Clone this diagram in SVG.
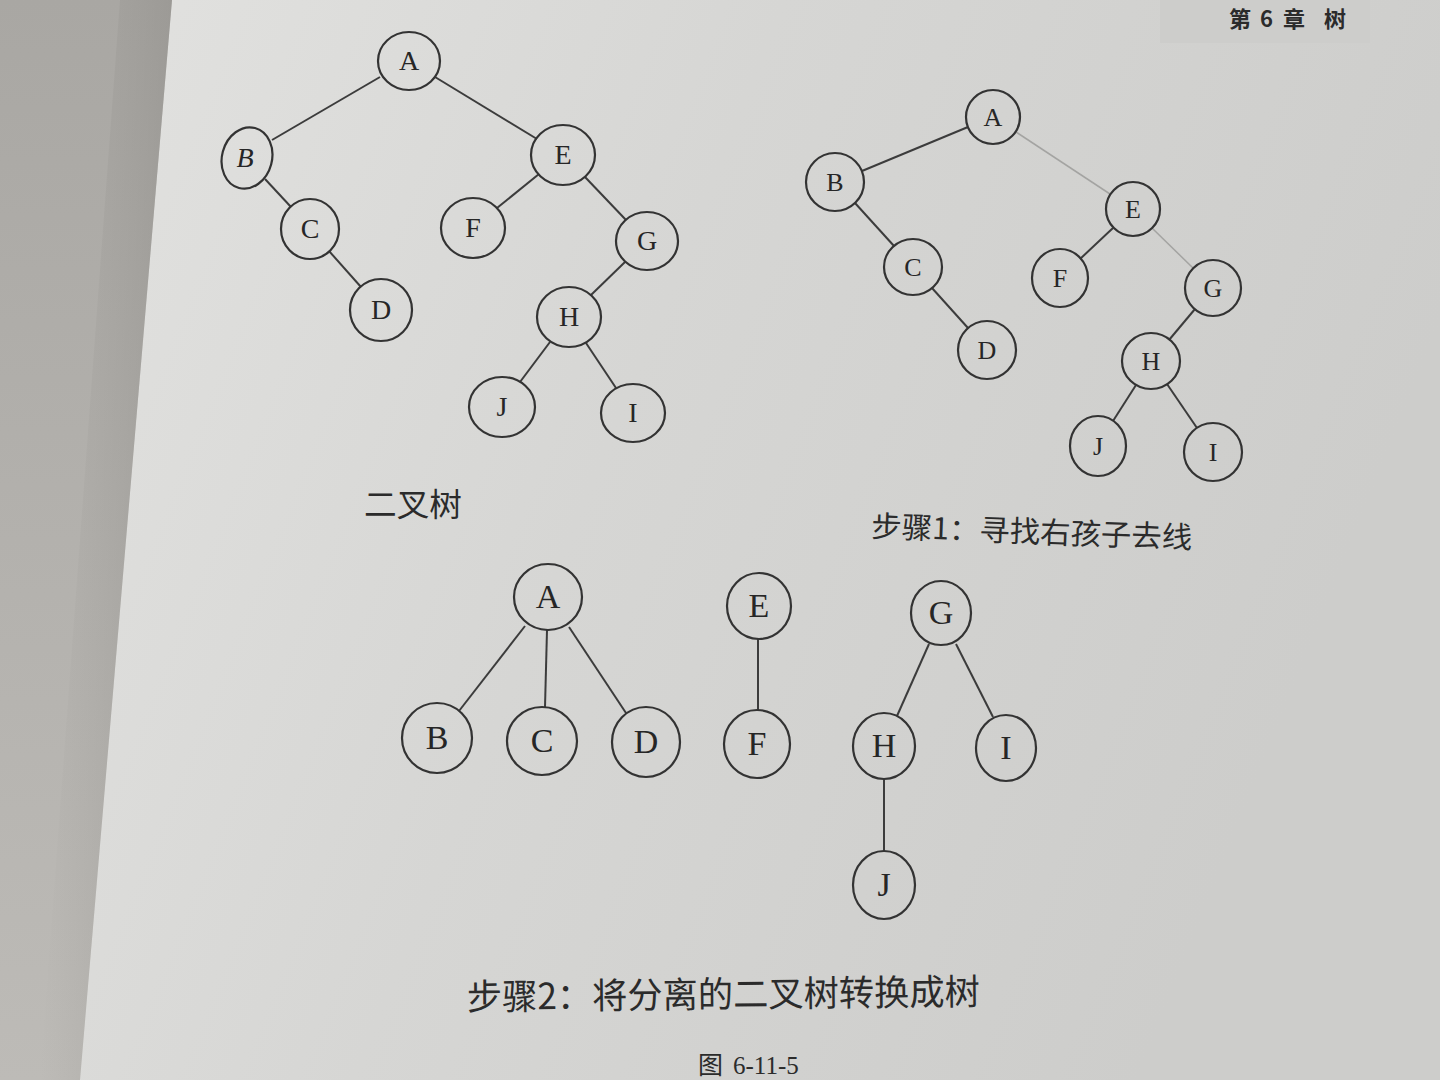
<svg xmlns="http://www.w3.org/2000/svg" width="1440" height="1080" viewBox="0 0 1440 1080">
<defs>
<linearGradient id="page" x1="0" y1="0" x2="1" y2="0.3">
<stop offset="0" stop-color="#e3e3e1"/>
<stop offset="0.5" stop-color="#d6d6d4"/>
<stop offset="1" stop-color="#cdcdcb"/>
</linearGradient>
<linearGradient id="left" x1="0" y1="0" x2="0" y2="1">
<stop offset="0" stop-color="#a9a7a3"/>
<stop offset="1" stop-color="#bdbbb7"/>
</linearGradient>
<linearGradient id="fold" x1="0" y1="0" x2="1" y2="0">
<stop offset="0" stop-color="#9e9c98" stop-opacity="0"/>
<stop offset="1" stop-color="#8f8d89" stop-opacity="0.5"/>
</linearGradient>
<style>
.n{fill:none;stroke:#333333;stroke-width:2.2}
.e{stroke:#3c3c3c;stroke-width:2;fill:none}
.f{stroke:#a4a4a2;stroke-width:1.5;fill:none}
.t1{font-family:"Liberation Serif","DejaVu Serif",serif;font-size:28px;fill:#262626;text-anchor:middle}
.t2{font-family:"Liberation Serif","DejaVu Serif",serif;font-size:26px;fill:#262626;text-anchor:middle}
.t3{font-family:"Liberation Serif","DejaVu Serif",serif;font-size:34px;fill:#262626;text-anchor:middle}
.cap{font-family:"Noto Sans CJK SC","Liberation Sans",sans-serif;fill:#2b2b2b}
</style>
</defs>
<rect x="0" y="0" width="1440" height="1080" fill="url(#page)"/>
<polygon points="0,0 172,0 80,1080 0,1080" fill="url(#left)"/>
<polygon points="120,0 172,0 80,1080 40,1080" fill="url(#fold)"/>
<rect x="1160" y="0" width="210" height="43" fill="#cdcdcb"/>

<g id="header">
<text class="cap" font-weight="bold" font-size="22" y="27"><tspan x="1229">第</tspan><tspan x="1260">6</tspan><tspan x="1283">章</tspan><tspan x="1324">树</tspan></text>
</g>

<g id="connectors">
<!-- tree 1 -->
<line class="e" x1="380" y1="77" x2="272" y2="140"/>
<line class="e" x1="435" y1="77" x2="537" y2="139"/>
<line class="e" x1="265" y1="179" x2="291" y2="207"/>
<line class="e" x1="329" y1="251" x2="361" y2="287"/>
<line class="e" x1="539" y1="174" x2="497" y2="208"/>
<line class="e" x1="585" y1="177" x2="626" y2="220"/>
<line class="e" x1="625" y1="262" x2="591" y2="295"/>
<line class="e" x1="550" y1="342" x2="520" y2="382"/>
<line class="e" x1="586" y1="343" x2="616" y2="388"/>
<!-- tree 2 -->
<line class="e" x1="968" y1="127" x2="862" y2="171"/>
<line class="f" x1="1016" y1="132" x2="1110" y2="194"/>
<line class="e" x1="855" y1="203" x2="894" y2="246"/>
<line class="e" x1="932" y1="288" x2="968" y2="328"/>
<line class="e" x1="1113" y1="228" x2="1080" y2="259"/>
<line class="f" x1="1152" y1="228" x2="1193" y2="268"/>
<line class="e" x1="1195" y1="309" x2="1169" y2="340"/>
<line class="e" x1="1136" y1="385" x2="1113" y2="421"/>
<line class="e" x1="1167" y1="384" x2="1197" y2="428"/>
<!-- tree 3 -->
<line class="e" x1="525" y1="626" x2="459" y2="711"/>
<line class="e" x1="547" y1="630" x2="545" y2="707"/>
<line class="e" x1="569" y1="627" x2="626" y2="713"/>
<line class="e" x1="758" y1="639" x2="758" y2="710"/>
<line class="e" x1="929" y1="644" x2="897" y2="716"/>
<line class="e" x1="956" y1="644" x2="993" y2="717"/>
<line class="e" x1="884" y1="779" x2="884" y2="851"/>
</g>

<!-- Tree 1: binary tree -->
<g id="t1-A"><ellipse class="n" cx="409" cy="61" rx="31" ry="29"/><text class="t1" x="409" y="70">A</text></g>
<g id="t1-B"><ellipse class="n" cx="247" cy="158" rx="25" ry="31" transform="rotate(15 247 158)"/><text class="t1" x="245" y="167" font-style="italic">B</text></g>
<g id="t1-C"><ellipse class="n" cx="310" cy="229" rx="29" ry="30"/><text class="t1" x="310" y="238">C</text></g>
<g id="t1-D"><ellipse class="n" cx="381" cy="310" rx="31" ry="31"/><text class="t1" x="381" y="319">D</text></g>
<g id="t1-E"><ellipse class="n" cx="563" cy="155" rx="32" ry="30"/><text class="t1" x="563" y="164">E</text></g>
<g id="t1-F"><ellipse class="n" cx="473" cy="228" rx="32" ry="30"/><text class="t1" x="473" y="237">F</text></g>
<g id="t1-G"><ellipse class="n" cx="647" cy="241" rx="31" ry="29"/><text class="t1" x="647" y="250">G</text></g>
<g id="t1-H"><ellipse class="n" cx="569" cy="317" rx="32" ry="30"/><text class="t1" x="569" y="326">H</text></g>
<g id="t1-J"><ellipse class="n" cx="502" cy="407" rx="33" ry="30"/><text class="t1" x="502" y="416">J</text></g>
<g id="t1-I"><ellipse class="n" cx="633" cy="413" rx="32" ry="29"/><text class="t1" x="633" y="422">I</text></g>

<!-- Tree 2: step 1 -->
<g id="t2-A"><ellipse class="n" cx="993" cy="117" rx="27" ry="27"/><text class="t2" x="993" y="126">A</text></g>
<g id="t2-B"><ellipse class="n" cx="835" cy="182" rx="29" ry="29"/><text class="t2" x="835" y="191">B</text></g>
<g id="t2-C"><ellipse class="n" cx="913" cy="267" rx="29" ry="28"/><text class="t2" x="913" y="276">C</text></g>
<g id="t2-D"><ellipse class="n" cx="987" cy="350" rx="29" ry="29"/><text class="t2" x="987" y="359">D</text></g>
<g id="t2-E"><ellipse class="n" cx="1133" cy="209" rx="27" ry="27"/><text class="t2" x="1133" y="218">E</text></g>
<g id="t2-F"><ellipse class="n" cx="1060" cy="278" rx="28" ry="29"/><text class="t2" x="1060" y="287">F</text></g>
<g id="t2-G"><ellipse class="n" cx="1213" cy="288" rx="28" ry="28"/><text class="t2" x="1213" y="297">G</text></g>
<g id="t2-H"><ellipse class="n" cx="1151" cy="361" rx="29" ry="28"/><text class="t2" x="1151" y="370">H</text></g>
<g id="t2-J"><ellipse class="n" cx="1098" cy="446" rx="28" ry="30"/><text class="t2" x="1098" y="455">J</text></g>
<g id="t2-I"><ellipse class="n" cx="1213" cy="452" rx="29" ry="29"/><text class="t2" x="1213" y="461">I</text></g>

<!-- Tree 3: step 2 -->
<g id="t3-A"><ellipse class="n" cx="548" cy="597" rx="34" ry="33"/><text class="t3" x="548" y="608">A</text></g>
<g id="t3-B"><ellipse class="n" cx="437" cy="738" rx="35" ry="35"/><text class="t3" x="437" y="749">B</text></g>
<g id="t3-C"><ellipse class="n" cx="542" cy="741" rx="35" ry="34"/><text class="t3" x="542" y="752">C</text></g>
<g id="t3-D"><ellipse class="n" cx="646" cy="742" rx="34" ry="35"/><text class="t3" x="646" y="753">D</text></g>
<g id="t3-E"><ellipse class="n" cx="759" cy="606" rx="32" ry="33"/><text class="t3" x="759" y="617">E</text></g>
<g id="t3-F"><ellipse class="n" cx="757" cy="744" rx="33" ry="34"/><text class="t3" x="757" y="755">F</text></g>
<g id="t3-G"><ellipse class="n" cx="941" cy="613" rx="30" ry="32"/><text class="t3" x="941" y="624">G</text></g>
<g id="t3-H"><ellipse class="n" cx="884" cy="746" rx="31" ry="33"/><text class="t3" x="884" y="757">H</text></g>
<g id="t3-I"><ellipse class="n" cx="1006" cy="748" rx="30" ry="33"/><text class="t3" x="1006" y="759">I</text></g>
<g id="t3-J"><ellipse class="n" cx="884" cy="885" rx="31" ry="34"/><text class="t3" x="884" y="896">J</text></g>

<g id="captions">
<text class="cap" x="364" y="516" font-size="32" textLength="98" lengthAdjust="spacingAndGlyphs">二叉树</text>
<text class="cap" x="871" y="537" font-size="30" textLength="321" lengthAdjust="spacingAndGlyphs" transform="rotate(2 871 537)">步骤1：寻找右孩子去线</text>
<text class="cap" x="467" y="1010" font-size="36" textLength="513" lengthAdjust="spacingAndGlyphs" transform="rotate(-0.6 467 1010)">步骤2：将分离的二叉树转换成树</text>
<text class="cap" x="698" y="1074" font-size="25"><tspan>图</tspan><tspan x="733" font-family="Liberation Serif, serif">6-11-5</tspan></text>
</g>
</svg>
